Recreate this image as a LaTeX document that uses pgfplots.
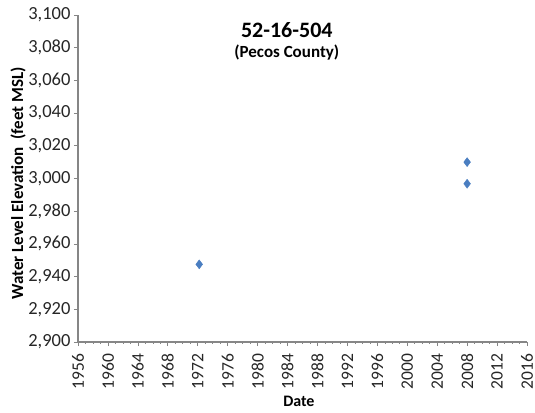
\documentclass[border=0pt]{standalone}
\usepackage{pgfplots}
\pgfplotsset{compat=1.18}
\usepackage{fontspec}
\setmainfont{Carlito}
\definecolor{ptblue}{RGB}{74,126,193}
\definecolor{axgray}{RGB}{134,134,134}
\begin{document}
\begin{tikzpicture}[x=1pt,y=1pt]
\useasboundingbox (0,0) rectangle (535,412);
\begin{axis}[
  at={(78pt,70pt)}, anchor=south west,
  scale only axis, width=449pt, height=327pt,
  xmin=1956, xmax=2016, ymin=2900, ymax=3100,
  axis x line*=bottom, axis y line*=left,
  axis line style={axgray, line width=1.2pt},
  xtick={1956,1960,...,2016}, ytick={2900,2920,...,3100},
  minor x tick num=3,
  tick style={axgray, line width=0.6pt},
  major tick length=4pt, minor tick length=2pt,
  tick align=outside,
  x tick label style={rotate=90, anchor=east, font=\fontsize{17.5}{17.5}\selectfont, text=black!85, xshift=-4pt},
  y tick label style={font=\fontsize{18.5}{18.5}\selectfont, text=black!85},
  xticklabel={\pgfmathprintnumber[1000 sep=]{\tick}},
  /pgf/number format/assume math mode=true,
  /pgf/number format/1000 sep={,},
  scaled y ticks=false,
  clip=false,
]
\addplot[only marks, mark=diamond*, mark size=4.5pt, color=ptblue] coordinates {
  (1972.2,2947.5) (2008.0,3010.0) (2008.0,2996.8)
};
\node[font=\bfseries\fontsize{22}{22}\selectfont] at (rel axis cs:0.465,0.954) {52-16-504};
\node[font=\bfseries\fontsize{17}{17}\selectfont] at (rel axis cs:0.465,0.884) {(Pecos County)};
\node[font=\bfseries\fontsize{16}{16}\selectfont] at ([yshift=-59pt]rel axis cs:0.492,0) {Date};
\node[font=\bfseries\fontsize{17}{17}\selectfont, rotate=90] at ([xshift=-60pt]rel axis cs:0,0.485) {Water Level Elevation\ \ (feet MSL)};
\end{axis}
\end{tikzpicture}
\end{document}
